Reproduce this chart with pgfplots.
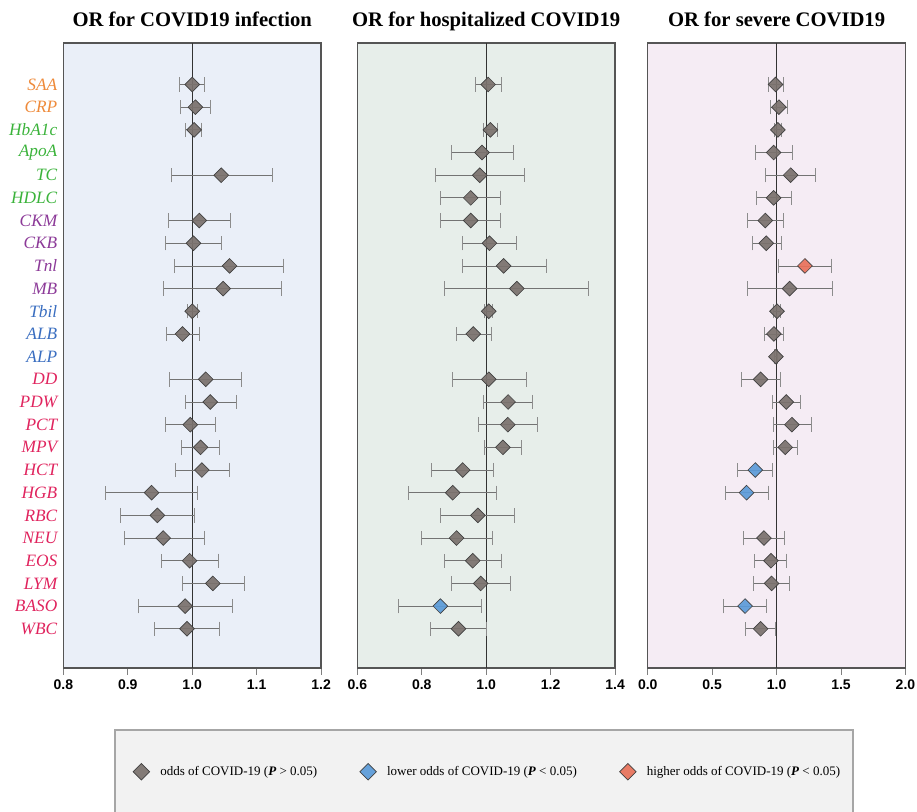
\documentclass[border=0pt]{standalone}
\usepackage{pgfplots}
\pgfplotsset{compat=1.18}
\usepackage{pgfplotstable}
\usepackage{fontspec}
\setmainfont{Liberation Serif}
\newfontfamily\sansb{Liberation Sans}
\definecolor{cOr}{HTML}{EE8A3A}
\definecolor{cGr}{HTML}{3BB33B}
\definecolor{cPu}{HTML}{8C3A98}
\definecolor{cBl}{HTML}{3A6EC0}
\definecolor{cRd}{HTML}{E0245E}
\definecolor{bg1}{HTML}{EAEFF8}
\definecolor{bg2}{HTML}{E7EEEA}
\definecolor{bg3}{HTML}{F5ECF4}
\definecolor{mgray}{HTML}{7A716D}
\definecolor{mblue}{HTML}{5B9BD8}
\definecolor{morange}{HTML}{E8715A}
\definecolor{axc}{HTML}{555555}

% y  x  lo  hi
\pgfplotstableread{
y x lo hi
25 1.000 0.980 1.019
24 1.005 0.981 1.028
23 1.003 0.990 1.015
21 1.045 0.967 1.124
19 1.011 0.963 1.059
18 1.002 0.958 1.046
17 1.058 0.972 1.141
16 1.048 0.956 1.139
15 1.000 0.993 1.008
14 0.985 0.960 1.011
12 1.021 0.965 1.076
11 1.028 0.989 1.069
10 0.997 0.958 1.036
9 1.013 0.984 1.042
8 1.015 0.974 1.057
7 0.937 0.866 1.008
6 0.946 0.888 1.003
5 0.955 0.895 1.019
4 0.996 0.952 1.040
3 1.032 0.985 1.081
2 0.989 0.916 1.062
1 0.992 0.941 1.042
}\pa
\pgfplotstableread{
y x lo hi
25 1.006 0.965 1.047
23 1.013 0.992 1.035
22 0.987 0.891 1.084
21 0.980 0.841 1.119
20 0.952 0.859 1.045
19 0.952 0.859 1.043
18 1.010 0.926 1.095
17 1.054 0.925 1.187
16 1.095 0.871 1.317
15 1.008 0.993 1.020
14 0.960 0.906 1.015
12 1.008 0.895 1.124
11 1.068 0.992 1.143
10 1.067 0.976 1.158
9 1.052 0.995 1.110
8 0.927 0.829 1.023
7 0.896 0.759 1.032
6 0.974 0.858 1.086
5 0.908 0.800 1.019
4 0.958 0.871 1.047
3 0.983 0.893 1.074
1 0.914 0.826 1.001
}\pbg
\pgfplotstableread{
y x lo hi
2 0.858 0.728 0.986
}\pbb
\pgfplotstableread{
y x lo hi
25 0.992 0.935 1.049
24 1.018 0.951 1.085
23 1.010 0.982 1.041
22 0.977 0.832 1.121
21 1.109 0.915 1.302
20 0.977 0.842 1.111
19 0.912 0.773 1.049
18 0.920 0.809 1.036
16 1.101 0.770 1.432
15 1.003 0.979 1.026
14 0.979 0.902 1.054
13 0.995 0.982 1.005
12 0.876 0.729 1.026
11 1.075 0.969 1.183
10 1.119 0.972 1.269
9 1.067 0.977 1.158
5 0.902 0.739 1.062
4 0.956 0.829 1.078
3 0.961 0.822 1.101
1 0.876 0.755 0.992
}\pcg
\pgfplotstableread{
y x lo hi
8 0.835 0.695 0.969
7 0.767 0.602 0.935
2 0.755 0.589 0.917
}\pcb
\pgfplotstableread{
y x lo hi
17 1.220 1.013 1.424
}\pco

\pgfplotsset{
  forest/.style={
    scale only axis, width=193.3pt, height=468.75pt,
    ymin=-0.73, ymax=26.83,
    axis line style={axc, line width=1.1pt},
    ytick=\empty,
    xtick pos=lower,
    xtick align=outside,
    major tick length=5pt,
    xtick style={gray, line width=0.8pt},
    tick label style={font=\sansb\bfseries\fontsize{10.5}{12}\selectfont, text=black},
    /pgf/number format/assume math mode=true,
    xticklabel style={/pgf/number format/.cd, fixed, fixed zerofill, precision=1},
    title style={at={(0.5,1)}, anchor=base, yshift=6pt, font=\bfseries\fontsize{15.5}{18}\selectfont},
    clip=false,
  },
  pts/.style={
    only marks, mark=square*,
    mark size=3.9pt,
    mark options={rotate=45, fill=#1, draw=black!75, line width=0.5pt, fill opacity=0.92},
    error bars/.cd, x dir=both, x explicit,
      error mark=|,
      error bar style={line width=0.6pt, black!55},
      error mark options={line width=0.6pt, black!45, mark size=5.4pt, rotate=0},
  },
}

\begin{document}
\begin{tikzpicture}[x=1pt,y=1pt]
\path[use as bounding box] (0,0) rectangle (687.75,-609);
% legend box
\draw[fill=black!5, draw=black!35, line width=0.8pt] (86.25,-547.5) rectangle (639.75,-612);

\begin{axis}[forest, at={(47.5pt,-501pt)}, anchor=south west,
  axis background/.style={fill=bg1},
  xmin=0.8, xmax=1.2, xtick={0.8,0.9,...,1.2},
  title={OR for COVID19 infection},
  ytick={1,...,25},
  ytick style={draw=none},
  yticklabel style={font=\itshape\fontsize{13}{14}\selectfont, xshift=-1pt},
  yticklabels={\textcolor{cRd}{WBC},\textcolor{cRd}{BASO},\textcolor{cRd}{LYM},\textcolor{cRd}{EOS},\textcolor{cRd}{NEU},\textcolor{cRd}{RBC},\textcolor{cRd}{HGB},\textcolor{cRd}{HCT},\textcolor{cRd}{MPV},\textcolor{cRd}{PCT},\textcolor{cRd}{PDW},\textcolor{cRd}{DD},\textcolor{cBl}{ALP},\textcolor{cBl}{ALB},\textcolor{cBl}{Tbil},\textcolor{cPu}{MB},\textcolor{cPu}{Tnl},\textcolor{cPu}{CKB},\textcolor{cPu}{CKM},\textcolor{cGr}{HDLC},\textcolor{cGr}{TC},\textcolor{cGr}{ApoA},\textcolor{cGr}{HbA1c},\textcolor{cOr}{CRP},\textcolor{cOr}{SAA}},
]
\addplot[black!80, line width=0.7pt, forget plot] coordinates {(1,-0.73) (1,26.83)};
\addplot[pts=mgray] table[x=x, y=y, x error plus expr=\thisrow{hi}-\thisrow{x}, x error minus expr=\thisrow{x}-\thisrow{lo}] {\pa};
\end{axis}

\begin{axis}[forest, at={(268pt,-501pt)}, anchor=south west,
  axis background/.style={fill=bg2},
  xmin=0.6, xmax=1.4, xtick={0.6,0.8,...,1.4},
  title={OR for hospitalized COVID19},
]
\addplot[black!80, line width=0.7pt, forget plot] coordinates {(1,-0.73) (1,26.83)};
\addplot[pts=mgray] table[x=x, y=y, x error plus expr=\thisrow{hi}-\thisrow{x}, x error minus expr=\thisrow{x}-\thisrow{lo}] {\pbg};
\addplot[pts=mblue] table[x=x, y=y, x error plus expr=\thisrow{hi}-\thisrow{x}, x error minus expr=\thisrow{x}-\thisrow{lo}] {\pbb};
\end{axis}

\begin{axis}[forest, at={(485.8pt,-501pt)}, anchor=south west,
  axis background/.style={fill=bg3},
  xmin=0, xmax=2, xtick={0,0.5,...,2},
  title={OR for severe COVID19},
  legend columns=3,
  legend style={draw=none, fill=none, at={(-0.62,-0.166)}, anchor=center,
    font=\fontsize{9.75}{12}\selectfont, column sep=6pt,
    /tikz/every even column/.append style={column sep=30pt}},
  legend image code/.code={\draw[#1, mark size=4.4pt] plot coordinates {(0pt,0pt)};},
]
\addplot[black!80, line width=0.7pt, forget plot] coordinates {(1,-0.73) (1,26.83)};
\addplot[pts=mgray] table[x=x, y=y, x error plus expr=\thisrow{hi}-\thisrow{x}, x error minus expr=\thisrow{x}-\thisrow{lo}] {\pcg};
\addlegendentry{odds of COVID-19 (\textbf{\textit{P}} > 0.05)}
\addplot[pts=mblue] table[x=x, y=y, x error plus expr=\thisrow{hi}-\thisrow{x}, x error minus expr=\thisrow{x}-\thisrow{lo}] {\pcb};
\addlegendentry{lower odds of COVID-19 (\textbf{\textit{P}} < 0.05)}
\addplot[pts=morange] table[x=x, y=y, x error plus expr=\thisrow{hi}-\thisrow{x}, x error minus expr=\thisrow{x}-\thisrow{lo}] {\pco};
\addlegendentry{higher odds of COVID-19 (\textbf{\textit{P}} < 0.05)}
\end{axis}
\end{tikzpicture}
\end{document}
